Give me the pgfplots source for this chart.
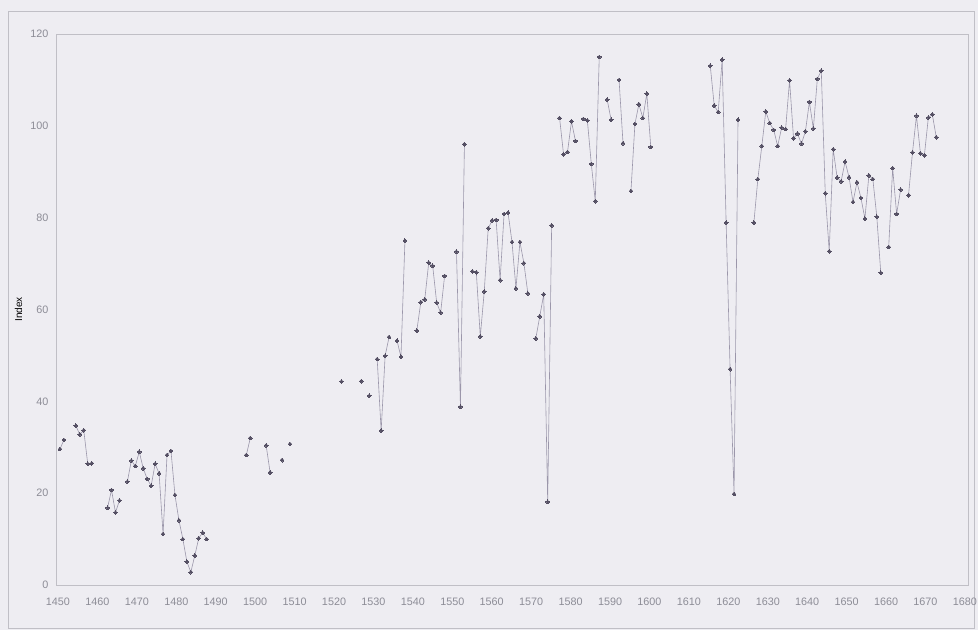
\documentclass[border=0pt]{standalone}
\usepackage{fontspec}
\setmainfont{Liberation Sans}
\usepackage{pgfplots}
\pgfplotsset{compat=1.18}
\definecolor{bg}{RGB}{238,237,242}
\definecolor{frame}{RGB}{192,191,198}
\definecolor{txt}{RGB}{140,140,150}
\definecolor{ln}{RGB}{155,150,170}
\definecolor{mk}{RGB}{85,80,100}
\begin{document}
\begin{tikzpicture}[x=1pt,y=1pt]
\useasboundingbox (0,0) rectangle (978,630);
\fill[bg] (0,0) rectangle (978,630);
\draw[frame, line width=1pt] (8.5,2) rectangle (974,618);
\begin{axis}[
  at={(56pt,45pt)}, anchor=south west,
  width=912pt, height=551pt, scale only axis,
  xmin=1450, xmax=1680, ymin=0, ymax=120,
  xtick={1450.5,1460.445,1470.389,1480.334,1490.278,1500.223,1510.167,1520.112,1530.056,1540.0,1549.945,1559.890,1569.834,1579.779,1589.723,1599.668,1609.612,1619.557,1629.501,1639.446,1649.390,1659.335,1669.279,1679.224},
  xticklabels={1450,1460,1470,1480,1490,1500,1510,1520,1530,1540,1550,1560,1570,1580,1590,1600,1610,1620,1630,1640,1650,1660,1670,1680},
  ytick={0,20,...,120},
  axis line style={frame, line width=0.8pt},
  major tick length=0pt, tick style={draw=none},
  tick label style={font=\fontsize{10.8}{13}\selectfont, text=txt},
  xticklabel style={yshift=-9pt},
  yticklabel style={xshift=-4pt},
  /pgf/number format/1000 sep={},
  /pgf/number format/assume math mode=true,
  ylabel={Index},
  ylabel style={font=\fontsize{10}{12}\selectfont, text=txt},
  every axis y label/.style={at={(axis description cs:-0.041,0.5)}, rotate=90, anchor=center},
  unbounded coords=jump,
]
\addplot[ln, line width=0.6pt, mark=*, mark size=1.9pt, mark options={draw=mk, fill=mk, line width=0pt}] coordinates {
(1451,29.6) (1452,31.6) (1453,nan)
(1455,34.7) (1456,32.8) (1457,33.7) (1458,26.4) (1459,26.5) (1460,nan)
(1463,16.8) (1464,20.7) (1465,15.8) (1466,18.4) (1467,nan)
(1468,22.5) (1469,27.1) (1470,25.9) (1471,29.0) (1472,25.4) (1473,23.1) (1474,21.6) (1475,26.4) (1476,24.3) (1477,11.1) (1478,28.3) (1479,29.2) (1480,19.6) (1481,14.1) (1482,10.0) (1483,5.1) (1484,2.8) (1485,6.4) (1486,10.2) (1487,11.4) (1488,10.0) (1489,nan)
(1498,28.3) (1499,32.0) (1500,nan)
(1503,30.4) (1504,24.5) (1505,nan)
(1507,27.2) (1508,nan)
(1509,30.7) (1510,nan)
(1522,44.3) (1523,nan)
(1527,44.4) (1528,nan)
(1529,41.2) (1530,nan)
(1531,49.2) (1532,33.6) (1533,49.9) (1534,54.0) (1535,nan)
(1536,53.2) (1537,49.7) (1538,75.0) (1539,nan)
(1541,55.4) (1542,61.6) (1543,62.2) (1544,70.2) (1545,69.5) (1546,61.5) (1547,59.3) (1548,67.3) (1549,nan)
(1551,72.6) (1552,38.8) (1553,96.0) (1554,nan)
(1555,68.3) (1556,68.1) (1557,54.1) (1558,63.9) (1559,77.7) (1560,79.4) (1561,79.5) (1562,66.4) (1563,80.8) (1564,81.1) (1565,74.7) (1566,64.6) (1567,74.7) (1568,70.1) (1569,63.5) (1570,nan)
(1571,53.7) (1572,58.5) (1573,63.3) (1574,18.1) (1575,78.3) (1576,nan)
(1577,101.7) (1578,93.8) (1579,94.3) (1580,101.0) (1581,96.7) (1582,nan)
(1583,101.5) (1584,101.2) (1585,91.7) (1586,83.6) (1587,115.0) (1588,nan)
(1589,105.7) (1590,101.3) (1591,nan)
(1592,110.0) (1593,96.2) (1594,nan)
(1595,85.8) (1596,100.4) (1597,104.7) (1598,101.7) (1599,107.0) (1600,95.4) (1601,nan)
(1615,113.1) (1616,104.4) (1617,103.0) (1618,114.4) (1619,78.9) (1620,47.0) (1621,19.8) (1622,101.3) (1623,nan)
(1626,78.9) (1627,88.4) (1628,95.6) (1629,103.1) (1630,100.6) (1631,99.1) (1632,95.6) (1633,99.6) (1634,99.3) (1635,109.9) (1636,97.3) (1637,98.3) (1638,96.1) (1639,98.8) (1640,105.2) (1641,99.4) (1642,110.2) (1643,112.0) (1644,85.3) (1645,72.7) (1646,94.9) (1647,88.7) (1648,87.9) (1649,92.2) (1650,88.8) (1651,83.4) (1652,87.7) (1653,84.3) (1654,79.8) (1655,89.2) (1656,88.4) (1657,80.2) (1658,68.0) (1659,nan)
(1660,73.6) (1661,90.8) (1662,80.8) (1663,86.1) (1664,nan)
(1665,84.9) (1666,94.2) (1667,102.2) (1668,94.0) (1669,93.6) (1670,101.8) (1671,102.5) (1672,97.5)
};
\end{axis}
\end{tikzpicture}
\end{document}
